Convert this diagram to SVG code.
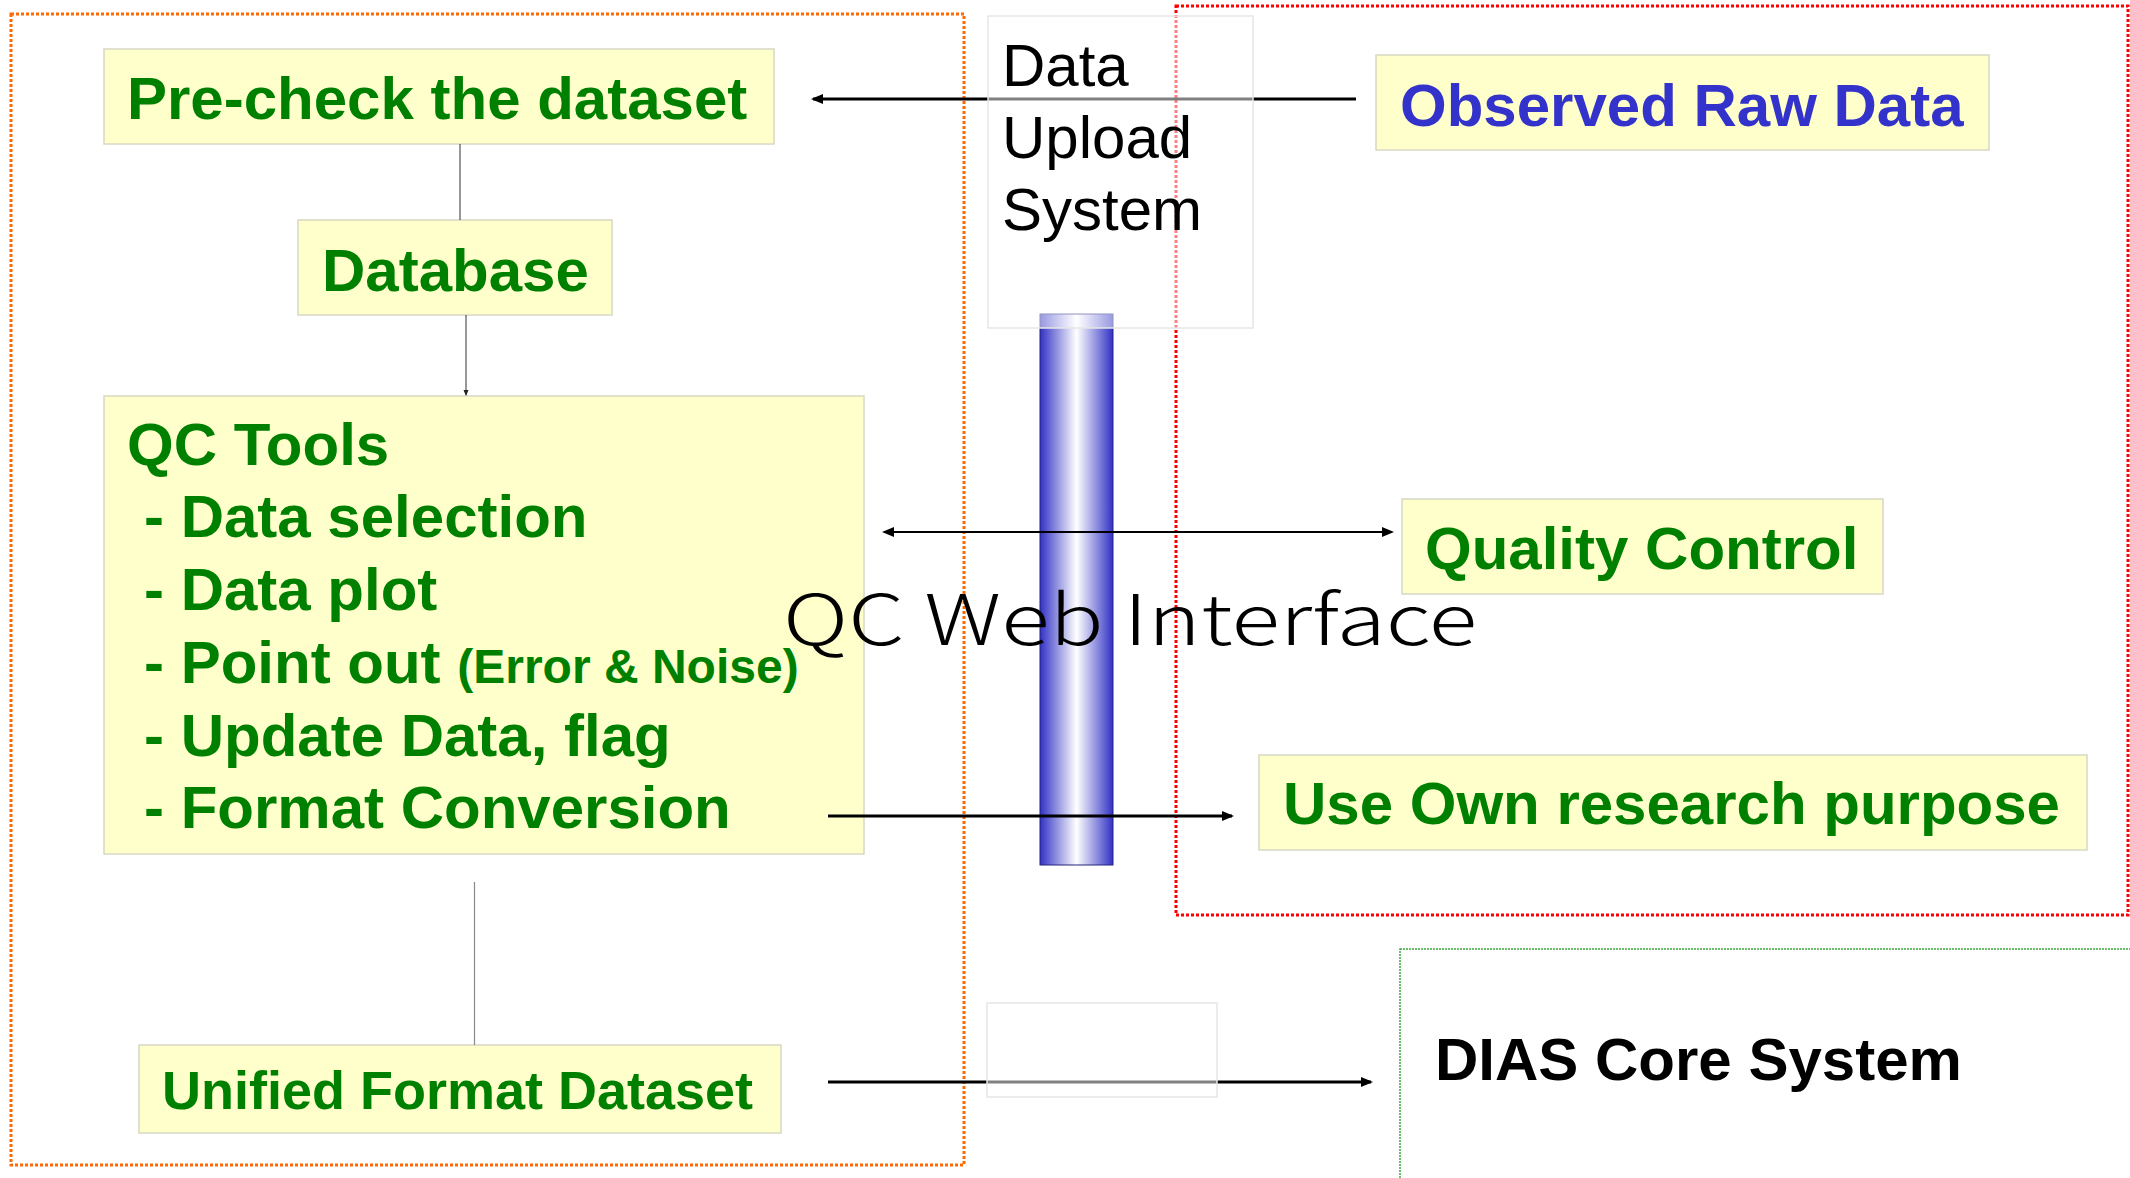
<svg xmlns="http://www.w3.org/2000/svg" width="2130" height="1178" viewBox="0 0 2130 1178">
  <defs>
    <linearGradient id="pipe" x1="0" y1="0" x2="1" y2="0">
      <stop offset="0" stop-color="#3232c6"/>
      <stop offset="0.5" stop-color="#ffffff"/>
      <stop offset="1" stop-color="#3232c6"/>
    </linearGradient>
    <marker id="head" markerUnits="userSpaceOnUse" viewBox="0 0 12 10" markerWidth="12" markerHeight="10" refX="10" refY="5" orient="auto-start-reverse">
      <path d="M0,0 L12,5 L0,10 z" fill="#000"/>
    </marker>
    <marker id="tiny" markerUnits="userSpaceOnUse" viewBox="0 0 6 6" markerWidth="6" markerHeight="6" refX="5" refY="3" orient="auto">
      <path d="M0,0.5 L6,3 L0,5.5 z" fill="#222"/>
    </marker>
  </defs>
  <style>
    .box{fill:#ffffcc;stroke:#d8d8c4;stroke-width:1.5}
    .veil{fill:#ffffff;fill-opacity:0.5;stroke:#e6e6e6;stroke-width:1.5}
    .lbl{font-family:"Liberation Sans",Arial,Helvetica,sans-serif;font-weight:bold;font-size:60px;fill:#008000}
    .small{font-size:54px}
    .note{font-size:48px}
    .blue{fill:#3333cc}
    .black{fill:#000000}
    .plain{font-family:"Liberation Sans",Arial,Helvetica,sans-serif;font-size:60px;fill:#000000}
    .web{font-family:"Noto Sans CJK JP","Noto Sans",sans-serif;font-weight:300;font-size:70px;fill:#000000}
    .link{stroke:#000;stroke-width:3;fill:none}
    .thin{stroke:#333;stroke-width:1;fill:none}
  </style>

  <rect width="2130" height="1178" fill="#ffffff"/>

  <!-- zone outlines -->
  <g id="zones" fill="none">
    <rect id="zone-local" x="11" y="14" width="953" height="1151" stroke="#ff6a00" stroke-width="3" stroke-dasharray="3 2"/>
    <rect id="zone-user" x="1176" y="6" width="952" height="909" stroke="#ff0000" stroke-width="3" stroke-dasharray="3 2"/>
    <rect id="zone-dias" x="1400" y="949" width="800" height="300" stroke="#3aa83a" stroke-width="1.5" stroke-dasharray="2 1"/>
  </g>

  <!-- web interface pipe -->
  <g id="pipe-bar">
    <rect x="1040" y="314" width="73" height="551" fill="url(#pipe)" stroke="#24247a" stroke-width="1"/>
  </g>

  <!-- nodes -->
  <g id="precheck">
    <rect class="box" x="104" y="49" width="670" height="95"/>
    <text class="lbl" x="127" y="119">Pre-check the dataset</text>
  </g>
  <g id="database">
    <rect class="box" x="298" y="220" width="314" height="95"/>
    <text class="lbl" x="322" y="291">Database</text>
  </g>
  <g id="qc-tools">
    <rect class="box" x="104" y="396" width="760" height="458"/>
    <text class="lbl" x="127" y="465">QC Tools</text>
    <text class="lbl" x="144" y="537">- Data selection</text>
    <text class="lbl" x="144" y="610">- Data plot</text>
    <text class="lbl" x="144" y="683">- Point out <tspan class="note">(Error &amp; Noise)</tspan></text>
    <text class="lbl" x="144" y="756">- Update Data, flag</text>
    <text class="lbl" x="144" y="828">- Format Conversion</text>
  </g>
  <g id="unified">
    <rect class="box" x="139" y="1045" width="642" height="88"/>
    <text class="lbl small" x="162" y="1109">Unified Format Dataset</text>
  </g>
  <g id="observed">
    <rect class="box" x="1376" y="55" width="613" height="95"/>
    <text class="lbl blue" x="1400" y="126">Observed Raw Data</text>
  </g>
  <g id="quality">
    <rect class="box" x="1402" y="499" width="481" height="95"/>
    <text class="lbl" x="1425" y="569">Quality Control</text>
  </g>
  <g id="own-research">
    <rect class="box" x="1259" y="755" width="828" height="95"/>
    <text class="lbl" x="1283" y="824">Use Own research purpose</text>
  </g>
  <g id="dias-core">
    <text class="lbl black" x="1435" y="1080">DIAS Core System</text>
  </g>

  <!-- connectors -->
  <g id="connectors">
    <line class="link" x1="1356" y1="99" x2="813" y2="99" marker-end="url(#head)"/>
    <line class="thin" x1="460" y1="144" x2="460" y2="220"/>
    <line class="thin" x1="466" y1="315" x2="466" y2="395" marker-end="url(#tiny)"/>
    <line x1="474.5" y1="882" x2="474.5" y2="1045" stroke="#888" stroke-width="1.2"/>
    <line stroke="#000" stroke-width="2.2" x1="884" y1="532" x2="1392" y2="532" marker-start="url(#head)" marker-end="url(#head)"/>
    <line class="link" x1="828" y1="816" x2="1232" y2="816" marker-end="url(#head)"/>
    <line class="link" x1="828" y1="1082" x2="1371" y2="1082" marker-end="url(#head)"/>
  </g>

  <!-- translucent panels over the data paths -->
  <g id="upload-system">
    <rect class="veil" x="988" y="16" width="265" height="312"/>
    <text class="plain" x="1002" y="86">Data</text>
    <text class="plain" x="1002" y="158">Upload</text>
    <text class="plain" x="1002" y="230">System</text>
  </g>
  <g id="gateway">
    <rect class="veil" x="987" y="1003" width="230" height="94"/>
  </g>

  <g id="web-interface">
    <text class="web" x="783" y="645" textLength="694" lengthAdjust="spacingAndGlyphs">QC Web Interface</text>
  </g>
</svg>
